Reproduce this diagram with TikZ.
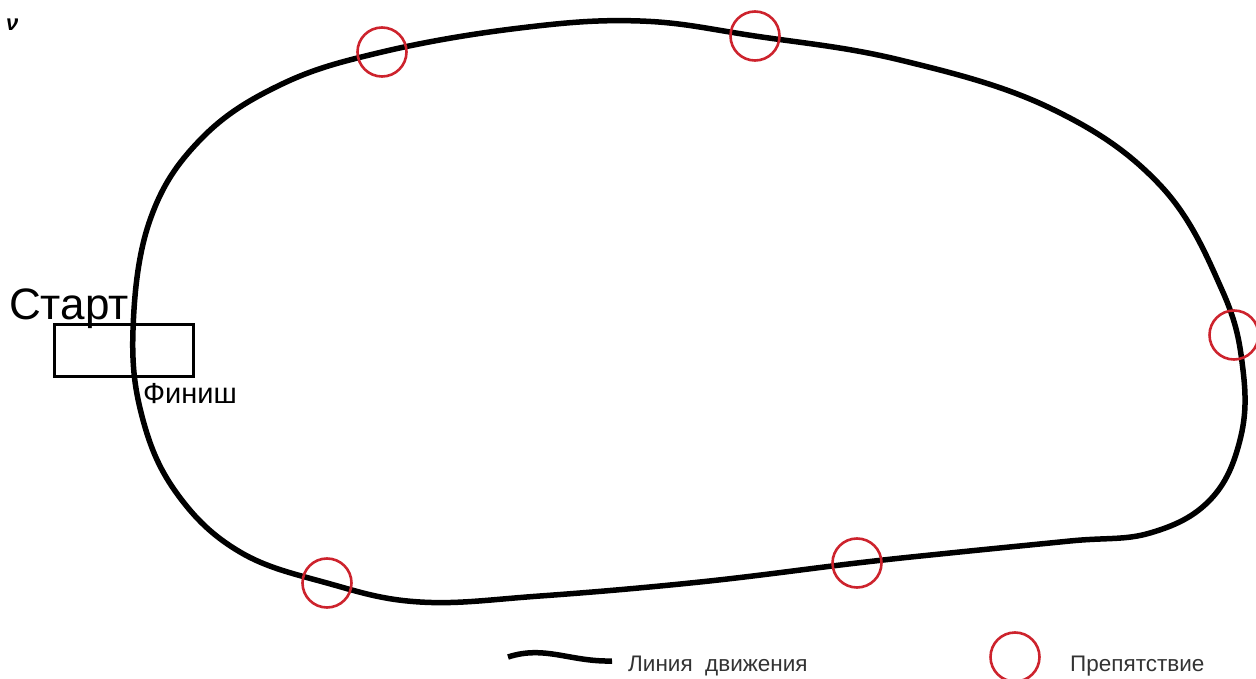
\documentclass[tikz,border=0pt]{standalone}
\usepackage{fontspec}
\setmainfont{Liberation Sans}
\begin{document}
\begin{tikzpicture}[x=1pt,y=-1pt,
  track/.style={line width=5.5pt, black, line join=round},
  obst/.style={circle, draw={rgb,255:red,205;green,35;blue,45}, line width=2.6pt, minimum size=49pt, inner sep=0pt},
  box/.style={draw, line width=3pt, minimum width=139pt, minimum height=52pt, inner sep=0pt},
  lbl/.style={inner sep=0pt, anchor=base west}]
\useasboundingbox (0,0) rectangle (1256,679);
% track
\draw[track] plot[smooth cycle, tension=0.65] coordinates {
  (133,330) (150,220) (200,140) (280,85) (382,52) (520,28) (640,21) (755,36)
  (900,60) (1050,108) (1160,185) (1222,290) (1243,370) (1240,440) (1210,500)
  (1150,533) (1070,541) (950,553) (857,563) (700,582) (540,596) (420,602)
  (327,583) (240,552) (178,495) (143,420)};
% start / finish box
\node[box] (sf) at (123.5,350) {};
\node[lbl, font=\fontsize{44}{44}\selectfont] (start) at (9,319) {Старт};
\node[lbl, font=\fontsize{29}{29}\selectfont] (finish) at (143,403) {Финиш};
% obstacles
\node[obst] (o1) at (382,52) {};
\node[obst] (o2) at (755,36) {};
\node[obst] (o3) at (1234,335) {};
\node[obst] (o4) at (857,563) {};
\node[obst] (o5) at (327,583) {};
% legend
\coordinate (la) at (508,657);
\coordinate (lb) at (612,661);
\draw[track] (la) .. controls (545,645) and (570,662) .. (lb);
\node[lbl, font=\fontsize{22.5}{22.5}\selectfont, text=black!80] (ltxt) at (628,671) {Линия\ \ движения};
\node[obst] (lo) at (1015,657) {};
\node[lbl, font=\fontsize{22.5}{22.5}\selectfont, text=black!80] (otxt) at (1070,671) {Препятствие};
% stray mark
\node[lbl, font=\fontsize{22}{22}\selectfont\bfseries\itshape] (mark) at (6,31) {ν};
\end{tikzpicture}
\end{document}
